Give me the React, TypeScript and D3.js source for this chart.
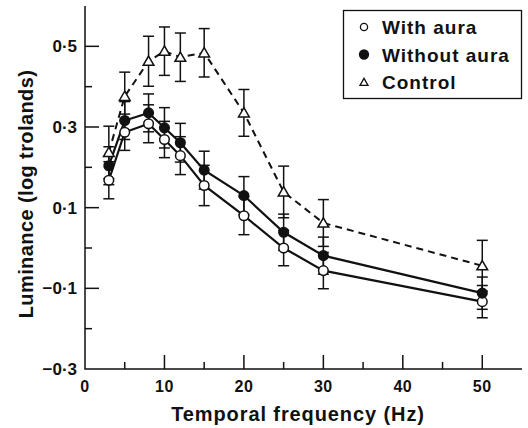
import { useRef, useEffect } from "react";
import * as d3 from "d3";

// temporal frequency (Hz)
const freqs = [3, 5, 8, 10, 12, 15, 20, 25, 30, 50];

// luminance (log trolands)
const withAura = [0.168, 0.287, 0.308, 0.269, 0.229, 0.155, 0.08, 0.0, -0.056, -0.133];
const withAuraErr = [0.046, 0.045, 0.047, 0.045, 0.047, 0.05, 0.047, 0.044, 0.045, 0.04];
const withoutAura = [0.204, 0.316, 0.335, 0.298, 0.261, 0.193, 0.13, 0.039, -0.019, -0.112];
const withoutAuraErr = [0.047, 0.047, 0.047, 0.05, 0.048, 0.047, 0.047, 0.045, 0.046, 0.04];
const control = [0.237, 0.376, 0.463, 0.488, 0.473, 0.484, 0.335, 0.139, 0.062, -0.044];
const controlErr = [0.065, 0.06, 0.062, 0.06, 0.06, 0.06, 0.058, 0.064, 0.058, 0.063];

const xMajor = [0, 10, 20, 30, 40, 50];
const xMinor = [5, 15, 25, 35, 45];
const yMajor = [-0.3, -0.1, 0.1, 0.3, 0.5];
const yMinor = [-0.2, 0, 0.2, 0.4];

const legendLabels = ["With aura", "Without aura", "Control"];

const FONT = "'Liberation Sans', Arial, Helvetica, sans-serif";

function fmt(v: number) {
  return d3.format(".1f")(v).replace(".", "·");
}

export default function App() {
  const svgRef = useRef<SVGSVGElement>(null);

  useEffect(() => {
    const svg = d3.select(svgRef.current);
    svg.selectAll("*").remove();

    const width = 528;
    const height = 428;
    const left = 85, right = 522, top = 6, bottom = 369;

    const x = d3.scaleLinear().domain([0, 55]).range([left, right]);
    const y = d3.scaleLinear().domain([-0.3, 0.6]).range([bottom, top]);

    svg.attr("viewBox", `0 0 ${width} ${height}`);

    // axes lines
    svg.append("path")
      .attr("d", `M${left},${top}V${bottom}H${right}`)
      .attr("fill", "none")
      .attr("stroke", "#111")
      .attr("stroke-width", 1.5);

    // x ticks point inward
    const xAxis = svg.append("g").attr("stroke", "#111").attr("stroke-width", 1.5);
    xAxis.selectAll(".xmaj").data(xMajor.filter(d => d !== 0)).enter().append("line")
      .attr("x1", d => x(d)).attr("x2", d => x(d))
      .attr("y1", bottom).attr("y2", bottom - 14);
    xAxis.selectAll(".xmin").data(xMinor).enter().append("line")
      .attr("x1", d => x(d)).attr("x2", d => x(d))
      .attr("y1", bottom).attr("y2", bottom - 7);

    svg.append("g").selectAll("text").data(xMajor).enter().append("text")
      .attr("x", d => x(d))
      .attr("y", bottom + 23)
      .attr("text-anchor", "middle")
      .style("font-family", FONT)
      .style("font-weight", "bold")
      .style("font-size", "16px")
      .style("letter-spacing", "0.5px")
      .attr("fill", "#111")
      .text(d => d);

    // y ticks point inward
    const yAxis = svg.append("g").attr("stroke", "#111").attr("stroke-width", 1.5);
    yAxis.selectAll(".ymaj").data(yMajor.filter(d => d !== -0.3)).enter().append("line")
      .attr("x1", left).attr("x2", left + 14)
      .attr("y1", d => y(d)).attr("y2", d => y(d));
    yAxis.selectAll(".ymin").data(yMinor).enter().append("line")
      .attr("x1", left).attr("x2", left + 7)
      .attr("y1", d => y(d)).attr("y2", d => y(d));

    svg.append("g").selectAll("text").data(yMajor).enter().append("text")
      .attr("x", left - 8)
      .attr("y", d => y(d) + 6)
      .attr("text-anchor", "end")
      .style("font-family", FONT)
      .style("font-weight", "bold")
      .style("font-size", "17px")
      .attr("fill", "#111")
      .text(d => fmt(d));

    // axis titles
    svg.append("text")
      .attr("x", 298)
      .attr("y", 421)
      .attr("text-anchor", "middle")
      .style("font-family", FONT)
      .style("font-weight", "bold")
      .style("font-size", "20px")
      .style("letter-spacing", "0.9px")
      .attr("fill", "#111")
      .text("Temporal frequency (Hz)");

    svg.append("text")
      .attr("transform", "rotate(-90)")
      .attr("x", -194)
      .attr("y", 33)
      .attr("text-anchor", "middle")
      .style("font-family", FONT)
      .style("font-weight", "bold")
      .style("font-size", "20px")
      .style("letter-spacing", "0.4px")
      .attr("fill", "#111")
      .text("Luminance (log trolands)");

    const series = [
      { vals: withAura, err: withAuraErr, kind: "open", dash: null },
      { vals: withoutAura, err: withoutAuraErr, kind: "filled", dash: null },
      { vals: control, err: controlErr, kind: "tri", dash: "7,5" },
    ];

    const line = d3.line<number>()
      .x((_, i) => x(freqs[i]))
      .y(d => y(d));

    series.forEach(s => {
      svg.append("path")
        .datum(s.vals)
        .attr("fill", "none")
        .attr("stroke", "#111")
        .attr("stroke-width", s.dash ? 2 : 2.2)
        .attr("stroke-dasharray", s.dash)
        .attr("d", line);
    });

    // error bars
    series.forEach(s => {
      const g = svg.append("g").attr("stroke", "#111").attr("stroke-width", 1.5);
      s.vals.forEach((v, i) => {
        const cx = x(freqs[i]);
        const lo = y(v - s.err[i]);
        const hi = y(v + s.err[i]);
        g.append("line").attr("x1", cx).attr("x2", cx).attr("y1", lo).attr("y2", hi);
        g.append("line").attr("x1", cx - 5.5).attr("x2", cx + 5.5).attr("y1", lo).attr("y2", lo);
        g.append("line").attr("x1", cx - 5.5).attr("x2", cx + 5.5).attr("y1", hi).attr("y2", hi);
      });
    });

    const tri = d3.symbol().type(d3.symbolTriangle).size(50);

    // markers
    series.forEach(s => {
      s.vals.forEach((v, i) => {
        const cx = x(freqs[i]);
        const cy = y(v);
        if (s.kind === "tri") {
          svg.append("path")
            .attr("d", tri())
            .attr("transform", `translate(${cx},${cy + 1})`)
            .attr("fill", "white")
            .attr("stroke", "#111")
            .attr("stroke-width", 1.5);
        } else {
          svg.append("circle")
            .attr("cx", cx).attr("cy", cy).attr("r", 4.8)
            .attr("fill", s.kind === "open" ? "white" : "#111")
            .attr("stroke", "#111")
            .attr("stroke-width", 1.5);
        }
      });
    });

    // legend
    const lg = svg.append("g");
    lg.append("rect")
      .attr("x", 343.5).attr("y", 10.5)
      .attr("width", 178).attr("height", 88)
      .attr("fill", "white")
      .attr("stroke", "#111")
      .attr("stroke-width", 1.3);

    const legendSym = d3.symbol().type(d3.symbolTriangle).size(28);
    legendLabels.forEach((label, i) => {
      const ly = 27 + i * 27.5;
      if (i === 2) {
        lg.append("path").attr("d", legendSym())
          .attr("transform", `translate(364,${ly + 1})`)
          .attr("fill", "white").attr("stroke", "#111").attr("stroke-width", 1.3);
      } else {
        lg.append("circle")
          .attr("cx", 364).attr("cy", ly)
          .attr("r", i === 0 ? 3.6 : 4.5)
          .attr("fill", i === 0 ? "white" : "#111")
          .attr("stroke", "#111").attr("stroke-width", 1.3);
      }
      lg.append("text")
        .attr("x", 382)
        .attr("y", ly + 7)
        .style("font-family", FONT)
        .style("font-weight", "bold")
        .style("font-size", "19px")
        .style("letter-spacing", "1px")
        .attr("fill", "#111")
        .text(label);
    });
  }, []);

  return (
    <svg
      ref={svgRef}
      width={528}
      height={428}
      style={{ position: "absolute", left: 0, top: 0, display: "block", background: "white" }}
    />
  );
}
